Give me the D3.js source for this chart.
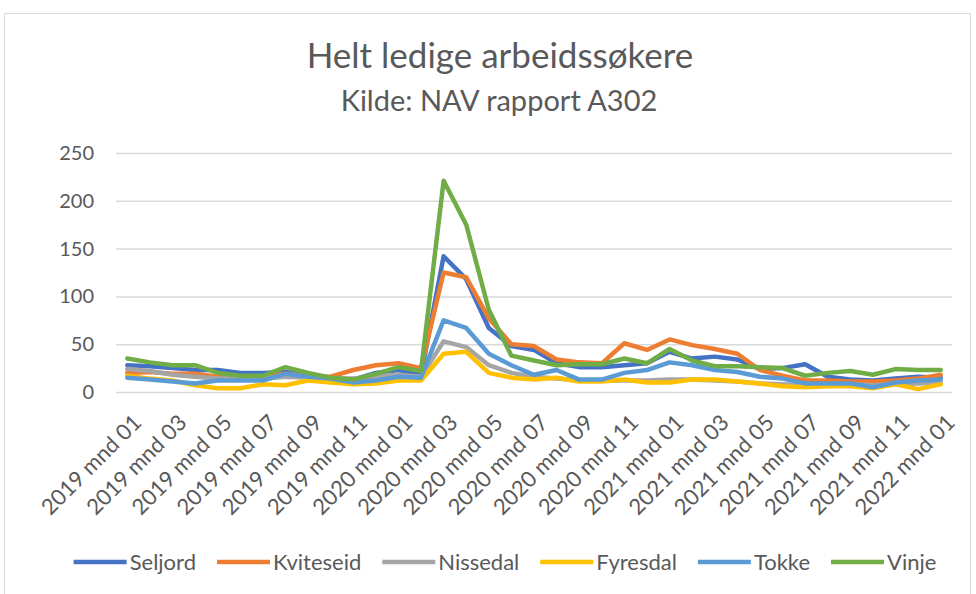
<!DOCTYPE html>
<html>
<head>
<meta charset="utf-8">
<script src="https://cdn.jsdelivr.net/npm/d3@7"></script>
<style>
  body { margin: 0; background: #fff; }
  text { font-family: Lato, "Open Sans", sans-serif; fill: #595959; }
</style>
</head>
<body>
<div id="chart"></div>
<script>
// Months on the x axis
var months = [
  "2019 mnd 01", "2019 mnd 02", "2019 mnd 03", "2019 mnd 04", "2019 mnd 05", "2019 mnd 06",
  "2019 mnd 07", "2019 mnd 08", "2019 mnd 09", "2019 mnd 10", "2019 mnd 11", "2019 mnd 12",
  "2020 mnd 01", "2020 mnd 02", "2020 mnd 03", "2020 mnd 04", "2020 mnd 05", "2020 mnd 06",
  "2020 mnd 07", "2020 mnd 08", "2020 mnd 09", "2020 mnd 10", "2020 mnd 11", "2020 mnd 12",
  "2021 mnd 01", "2021 mnd 02", "2021 mnd 03", "2021 mnd 04", "2021 mnd 05", "2021 mnd 06",
  "2021 mnd 07", "2021 mnd 08", "2021 mnd 09", "2021 mnd 10", "2021 mnd 11", "2021 mnd 12",
  "2022 mnd 01"
];

var seljord   = [28, 27, 25, 23, 23, 20, 20, 21, 17, 14, 13, 20, 23, 18, 142, 118, 67, 48, 44, 30, 26, 26, 28, 30, 42, 35, 37, 34, 24, 25, 29, 16, 13, 12, 14, 16, 15];
var kviteseid = [20, 21, 19, 19, 16, 16, 16, 19, 17, 16, 23, 28, 30, 25, 125, 120, 77, 50, 48, 34, 31, 30, 51, 44, 55, 49, 45, 40, 23, 17, 12, 12, 11, 11, 12, 14, 18];
var nissedal  = [24, 22, 18, 16, 14, 14, 14, 16, 15, 14, 14, 16, 18, 16, 53, 47, 28, 20, 16, 14, 12, 12, 12, 12, 13, 13, 12, 11, 9, 8, 7, 7, 8, 7, 8, 9, 10];
var fyresdal  = [17, 14, 12, 7, 4, 4, 8, 7, 12, 10, 8, 9, 12, 12, 40, 42, 20, 15, 13, 15, 11, 11, 13, 10, 10, 13, 13, 11, 9, 6, 5, 6, 6, 4, 8, 3, 8];
var tokke     = [15, 13, 11, 9, 12, 12, 12, 19, 16, 14, 10, 12, 16, 15, 75, 67, 40, 28, 18, 23, 13, 13, 20, 23, 31, 28, 23, 21, 16, 14, 9, 9, 9, 5, 10, 12, 13];
var vinje     = [35, 31, 28, 28, 20, 17, 17, 26, 20, 15, 13, 19, 26, 22, 221, 175, 86, 38, 33, 28, 29, 29, 35, 30, 45, 33, 27, 27, 26, 25, 17, 20, 22, 18, 24, 23, 23];

var seriesNames = ["Seljord", "Kviteseid", "Nissedal", "Fyresdal", "Tokke", "Vinje"];
var seriesValues = [seljord, kviteseid, nissedal, fyresdal, tokke, vinje];
var colors = ["#4472C4", "#ED7D31", "#A5A5A5", "#FFC000", "#5B9BD5", "#70AD47"];
var yTicks = [0, 50, 100, 150, 200, 250];

var svgWidth = 976;
var svgHeight = 594;

var plot = { left: 116, right: 952, top: 153, bottom: 392 };

var svg = d3.select("#chart")
  .append("svg")
  .attr("width", svgWidth)
  .attr("height", svgHeight);

// chart area border
svg.append("rect")
  .attr("x", 4.5)
  .attr("y", 13.5)
  .attr("width", 966)
  .attr("height", 600)
  .attr("fill", "none")
  .attr("stroke", "#d9d9d9");

// Titles
svg.append("text")
  .attr("x", 500)
  .attr("y", 68)
  .attr("text-anchor", "middle")
  .attr("font-size", "35px")
  .text("Helt ledige arbeidssøkere");

svg.append("text")
  .attr("x", 499)
  .attr("y", 111)
  .attr("text-anchor", "middle")
  .attr("font-size", "29px")
  .text("Kilde: NAV rapport A302");

// Scales
var xScale = d3.scalePoint()
  .domain(months)
  .range([plot.left, plot.right])
  .padding(0.5);

var yScale = d3.scaleLinear()
  .domain([0, 250])
  .range([plot.bottom, plot.top]);

// Gridlines + y labels
var yAxis = d3.axisLeft(yScale)
  .tickValues(yTicks)
  .tickSize(-(plot.right - plot.left))
  .tickPadding(22);

var yG = svg.append("g")
  .attr("transform", `translate(${plot.left}, 0)`)
  .call(yAxis);
yG.select(".domain").remove();
yG.selectAll(".tick line")
  .attr("stroke", "#d9d9d9")
  .attr("stroke-width", 1.5);
yG.selectAll(".tick text")
  .attr("font-size", "20px")
  .attr("font-family", "Lato, sans-serif")
  .attr("fill", "#595959");

// x labels, every second month
var xAxis = d3.axisBottom(xScale)
  .tickValues(months.filter((m, i) => i % 2 === 0))
  .tickSize(0);

var xG = svg.append("g")
  .attr("transform", `translate(0, ${plot.bottom})`)
  .call(xAxis);
xG.select(".domain").remove();
xG.selectAll(".tick text")
  .attr("font-size", "22px")
  .attr("font-family", "Lato, sans-serif")
  .attr("fill", "#595959")
  .attr("text-anchor", "end")
  .attr("dy", null)
  .attr("y", 0)
  .attr("transform", "translate(15, 32) rotate(-45)");

// Lines
var line = d3.line()
  .x((d, i) => xScale(months[i]))
  .y(d => yScale(d));

svg.append("g")
  .selectAll("path")
  .data(seriesValues)
  .enter()
  .append("path")
  .attr("d", d => line(d))
  .attr("fill", "none")
  .attr("stroke", (d, i) => colors[i])
  .attr("stroke-width", 4.5)
  .attr("stroke-linejoin", "round")
  .attr("stroke-linecap", "round");

// Legend
var legend = svg.append("g");
var items = legend.selectAll("g")
  .data(seriesNames)
  .enter()
  .append("g");

items.append("line")
  .attr("x1", 0)
  .attr("x2", 53)
  .attr("y1", 0)
  .attr("y2", 0)
  .attr("stroke", (d, i) => colors[i])
  .attr("stroke-width", 4.5);

items.append("text")
  .attr("x", 56)
  .attr("y", 8)
  .attr("font-size", "22px")
  .text(d => d);

var gap = 21;
var xpos = 0;
var widths = [];
items.each(function () {
  var w = 56 + d3.select(this).select("text").node().getComputedTextLength();
  widths.push(w);
});
var total = d3.sum(widths) + gap * (widths.length - 1);
var startX = 505 - total / 2;
items.attr("transform", function (d, i) {
  var t = `translate(${startX + xpos}, 562)`;
  xpos += widths[i] + gap;
  return t;
});
</script>
</body>
</html>
